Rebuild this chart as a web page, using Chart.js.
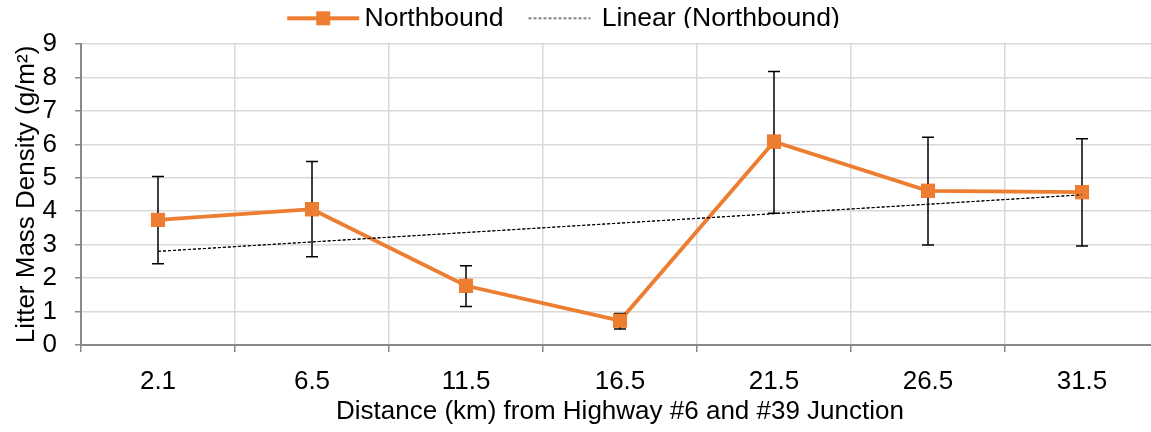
<!DOCTYPE html>
<html>
<head>
<meta charset="utf-8">
<script src="https://cdn.jsdelivr.net/npm/chart.js@4.4.1/dist/chart.umd.min.js"></script>
<style>
  html, body { margin: 0; padding: 0; background: #fff; overflow: hidden; }
  #c { position: absolute; left: 0; top: 0; }
</style>
</head>
<body>
<canvas id="c" width="1169" height="432"></canvas>
<script>
const categories = ['2.1', '6.5', '11.5', '16.5', '21.5', '26.5', '31.5'];
const northbound = [3.74, 4.06, 1.77, 0.73, 6.08, 4.61, 4.57];
const errUpper = [5.04, 5.49, 2.37, 0.94, 8.18, 6.21, 6.17];
const errLower = [2.43, 2.64, 1.15, 0.48, 3.94, 2.99, 2.96];
const trendNorthbound = [2.80, null, null, null, null, null, 4.49];
const yTicks = [0, 1, 2, 3, 4, 5, 6, 7, 8, 9];

const ORANGE = '#ED7D31';
const FONT = "'Liberation Sans', Arial, sans-serif";

function makeIcon(w, h, x0, x1, color, lw, dash, marker) {
  const cv = document.createElement('canvas');
  cv.width = w; cv.height = h;
  const g = cv.getContext('2d');
  g.strokeStyle = color; g.lineWidth = lw;
  if (dash) g.setLineDash(dash);
  g.beginPath(); g.moveTo(x0, h / 2); g.lineTo(x1, h / 2); g.stroke();
  if (marker) {
    g.fillStyle = color;
    const cx = (x0 + x1) / 2;
    g.fillRect(cx - marker / 2, h / 2 - marker / 2, marker, marker);
  }
  return cv;
}
const iconNorth = makeIcon(88, 16, 12, 84, ORANGE, 3.8, null, 14);
const iconTrend = makeIcon(88, 16, 16, 78, '#000', 1, [3, 2], 0);

const legendTweak = {
  id: 'legendTweak',
  afterInit(chart) {
    const lg = chart.legend;
    if (!lg) return;
    const orig = lg.fit.bind(lg);
    lg.fit = function () { orig(); this.height = 44; };
  },
  afterLayout(chart) {
    const lg = chart.legend;
    if (!lg) return;
    lg.top -= 16; lg.bottom -= 16;
    lg.left -= 20; lg.right -= 20;
  }
};

const errorBars = {
  id: 'errorBars',
  afterDatasetsDraw(chart) {
    const meta = chart.getDatasetMeta(0);
    const ys = chart.scales.y;
    const xs = chart.scales.x;
    const ctx = chart.ctx;
    ctx.save();
    ctx.strokeStyle = '#000';
    ctx.lineWidth = 1.5;
    meta.data.forEach((pt, i) => {
      const x = pt.x;
      const yt = ys.getPixelForValue(errUpper[i]);
      const yb = ys.getPixelForValue(errLower[i]);
      ctx.beginPath();
      ctx.moveTo(x, yt); ctx.lineTo(x, yb);
      ctx.moveTo(x - 6, yt); ctx.lineTo(x + 6, yt);
      ctx.moveTo(x - 6, yb); ctx.lineTo(x + 6, yb);
      ctx.stroke();
    });
    ctx.restore();
    meta.data.forEach((pt) => {
      ctx.save();
      ctx.fillStyle = ORANGE;
      ctx.fillRect(pt.x - 7, pt.y - 7, 14, 14);
      ctx.restore();
    });
    ctx.save();
    ctx.strokeStyle = '#000'; ctx.lineWidth = 1; ctx.setLineDash([3, 2]);
    ctx.beginPath();
    ctx.moveTo(xs.getPixelForValue(0), ys.getPixelForValue(trendNorthbound[0]));
    ctx.lineTo(xs.getPixelForValue(6), ys.getPixelForValue(trendNorthbound[6]));
    ctx.stroke();
    ctx.restore();
  }
};

new Chart(document.getElementById('c'), {
  type: 'line',
  data: {
    labels: categories,
    datasets: [
      {
        label: 'Northbound',
        data: northbound,
        borderColor: ORANGE,
        backgroundColor: ORANGE,
        borderWidth: 3.8,
        pointStyle: 'rect',
        pointRadius: 10,
        pointHoverRadius: 10,
        pointBorderWidth: 0,
        pointBackgroundColor: ORANGE,
        tension: 0,
        order: 1
      },
      {
        label: 'Linear (Northbound)',
        data: trendNorthbound,
        borderColor: '#000',
        borderWidth: 1,
        borderDash: [3, 2],
        pointRadius: 0,
        spanGaps: true,
        fill: false,
        order: 0
      }
    ]
  },
  options: {
    responsive: false,
    maintainAspectRatio: false,
    animation: false,
    layout: { padding: { left: 0, right: 2, top: 0, bottom: 0 } },
    plugins: {
      tooltip: { enabled: false },
      legend: {
        display: true,
        position: 'top',
        labels: {
          font: { family: FONT, size: 26.6 },
          color: '#000',
          padding: 21,
          usePointStyle: true,
          pointStyleWidth: 64,
          generateLabels(chart) {
            return [
              { text: 'Northbound', pointStyle: iconNorth, datasetIndex: 0, fillStyle: ORANGE, strokeStyle: ORANGE, lineWidth: 0, hidden: false, fontColor: '#000' },
              { text: 'Linear (Northbound)', pointStyle: iconTrend, datasetIndex: 1, fillStyle: '#000', strokeStyle: '#000', lineWidth: 0, hidden: false, fontColor: '#000' }
            ];
          }
        }
      }
    },
    scales: {
      x: {
        type: 'category',
        offset: true,
        afterFit(scale) { scale.height = 87; },
        grid: {
          offset: true,
          color: '#d9d9d9',
          lineWidth: 1.5,
          tickColor: '#898989',
          tickLength: 7,
          drawTicks: true
        },
        border: { color: '#898989', width: 2 },
        ticks: {
          font: { family: FONT, size: 26 },
          color: '#000',
          padding: 14,
          maxRotation: 0,
          autoSkip: false
        },
        title: {
          display: true,
          text: 'Distance (km) from Highway #6 and #39 Junction',
          font: { family: FONT, size: 26 },
          color: '#000',
          padding: { top: 0, bottom: 5 }
        }
      },
      y: {
        min: 0,
        max: 9,
        afterFit(scale) { scale.width = 81; },
        afterBuildTicks(scale) { scale.ticks = yTicks.map(v => ({ value: v })); },
        grid: {
          color: '#d9d9d9',
          lineWidth: 1.5,
          tickColor: '#898989',
          tickLength: 6,
          drawTicks: true
        },
        border: { color: '#898989', width: 2 },
        ticks: {
          font: { family: FONT, size: 26 },
          color: '#000',
          padding: 18,
          autoSkip: false
        },
        title: {
          display: true,
          text: 'Litter Mass Density (g/m²)',
          font: { family: FONT, size: 26 },
          color: '#000',
          padding: { top: 11, bottom: 0 }
        }
      }
    }
  },
  plugins: [legendTweak, errorBars]
});
</script>
</body>
</html>
